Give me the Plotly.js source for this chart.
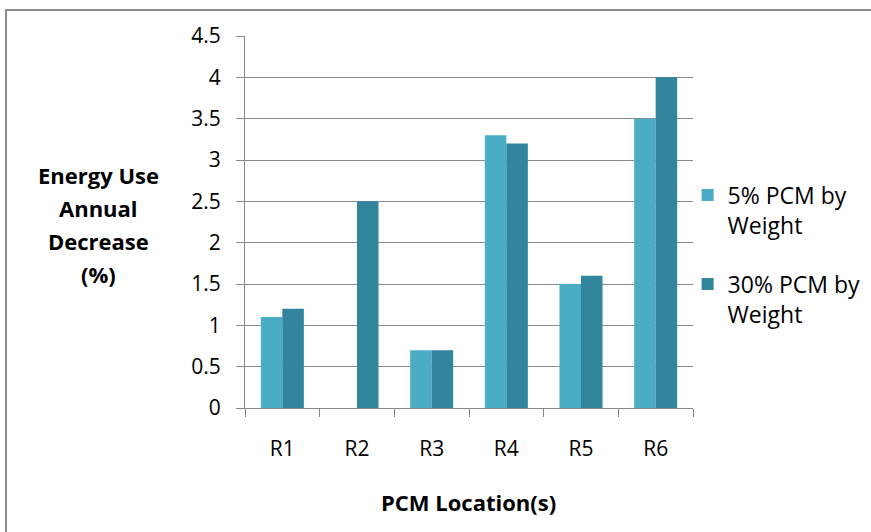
<!DOCTYPE html>
<html>
<head>
<meta charset="utf-8">
<script src="https://cdn.plot.ly/plotly-3.0.1.min.js"></script>
<style>
  html, body { margin: 0; padding: 0; background: #fff; }
  #wrap { position: relative; width: 871px; height: 532px; }
  #chart { position: absolute; left: 0; top: 0; width: 871px; height: 532px; }
  #frame { position: absolute; left: 5px; top: 9px; width: 870px; height: 530px;
           border-top: 2px solid #8a8a8a; border-left: 2px solid #8a8a8a; pointer-events: none; }
</style>
</head>
<body>
<div id="wrap">
  <div id="chart"></div>
  <div id="frame"></div>
</div>
<script>
const categories = ['R1', 'R2', 'R3', 'R4', 'R5', 'R6'];
const series5 = [1.1, 0, 0.7, 3.3, 1.5, 3.5];
const series30 = [1.2, 2.5, 0.7, 3.2, 1.6, 4.0];
const seriesNames = ['5% PCM by<br>Weight', '30% PCM by<br>Weight'];
const yTickVals = [0, 0.5, 1, 1.5, 2, 2.5, 3, 3.5, 4, 4.5];
const yTickText = ['0', '0.5', '1', '1.5', '2', '2.5', '3', '3.5', '4', '4.5'];
const yTitleLines = ['Energy Use', 'Annual', 'Decrease', '(%)'];
const xTitle = 'PCM Location(s)';

const FONT = 'Open Sans, Liberation Sans, sans-serif';
const GRID = '#8a8a8a';

const traces = [
  { type: 'bar', x: categories, y: series5, name: seriesNames[0], legendgroup: 'a',
    marker: { color: '#4BACC6', line: { width: 0 } } },
  { type: 'bar', x: categories, y: series30, name: seriesNames[1], legendgroup: 'b',
    marker: { color: '#31859C', line: { width: 0 } } }
];

const annotations = yTitleLines.map((t, i) => ({
  text: '<b>' + t + '</b>', xref: 'paper', yref: 'paper',
  x: -0.326, y: (408 - (175 + 33 * i)) / 372, xanchor: 'center', yanchor: 'middle',
  showarrow: false, font: { family: FONT, size: 22, color: '#000' }
}));
annotations.push({
  text: '<b>' + xTitle + '</b>', xref: 'paper', yref: 'paper',
  x: (468 - 245) / 448, y: (408 - 502) / 372, xanchor: 'center', yanchor: 'middle',
  showarrow: false, font: { family: FONT, size: 22, color: '#000' }
});

const layout = {
  width: 871, height: 532,
  margin: { l: 245, r: 178, t: 36, b: 124, pad: 0, autoexpand: false },
  paper_bgcolor: '#fff', plot_bgcolor: '#fff',
  barmode: 'group', bargap: 0.424, bargroupgap: 0,
  showlegend: true,
  legend: {
    x: 0.988, xanchor: 'left', y: 0.63, yanchor: 'top',
    valign: 'top', traceorder: 'grouped', tracegroupgap: 26,
    font: { family: FONT, size: 23, color: '#000' },
    itemwidth: 30, bgcolor: 'rgba(0,0,0,0)'
  },
  xaxis: {
    type: 'category', tickson: 'boundaries', ticks: 'outside', ticklen: 8, tickwidth: 1,
    tickcolor: GRID, showline: true, linecolor: GRID, linewidth: 1, showgrid: false,
    tickfont: { family: FONT, size: 21, color: '#000' }, ticklabelstandoff: 22,
    fixedrange: true
  },
  yaxis: {
    range: [0, 4.5], tickvals: yTickVals, ticktext: yTickText,
    ticks: 'outside', ticklen: 8, tickwidth: 1, tickcolor: GRID,
    showline: true, linecolor: GRID, linewidth: 1,
    showgrid: true, gridcolor: GRID, gridwidth: 1, zeroline: false,
    tickfont: { family: FONT, size: 21, color: '#000' }, ticklabelstandoff: 11,
    fixedrange: true
  },
  annotations: annotations
};

Plotly.newPlot('chart', traces, layout, { displayModeBar: false, staticPlot: true });
</script>
</body>
</html>
